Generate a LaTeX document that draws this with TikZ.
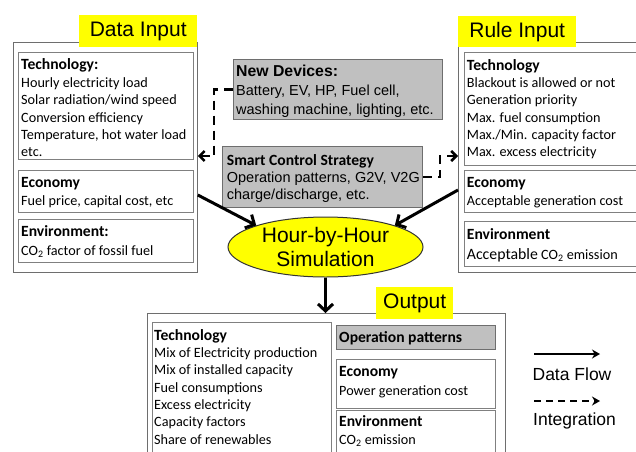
\documentclass[tikz,border=0pt]{standalone}
\usepackage{fontspec}
\setmainfont{Carlito}
\newfontfamily\arialf{Liberation Sans}
\usetikzlibrary{arrows.meta,shapes.geometric}

\definecolor{hilite}{RGB}{255,255,0}
\definecolor{panelgray}{RGB}{192,192,192}
\definecolor{framegray}{RGB}{110,110,110}
\definecolor{edgegray}{RGB}{128,128,128}

% one text line per node, stacked at a fixed line distance
\newcommand{\stacklines}[6]{%
  \foreach \lineTxt [count=\k] in {#6}{%
    \node[#2, anchor=base west, inner sep=0pt] (#1\k) at (#3,{#4+(\k-1)*#5}) {\lineTxt};}}

\tikzset{
  outerbox/.style={draw=framegray, line width=0.8pt, anchor=north west, inner sep=0pt},
  innerbox/.style={draw=edgegray, line width=1.1pt, anchor=north west, inner sep=0pt},
  greybox/.style={draw=framegray, fill=panelgray, line width=1pt, anchor=north west, inner sep=0pt},
  tag/.style={fill=hilite, anchor=north west, inner sep=0pt,
    font=\arialf\fontsize{21}{24}\selectfont},
  headtxt/.style={font=\bfseries\fontsize{15.6}{18}\selectfont},
  bodytxt/.style={font=\fontsize{14.2}{17}\selectfont},
  aheadtxt/.style={font=\arialf\bfseries\fontsize{15.8}{18}\selectfont},
  abodytxt/.style={font=\arialf\fontsize{14.5}{18}\selectfont},
  flow/.style={line width=3pt, -{Straight Barb[length=7pt,width=15pt]}},
  link/.style={line width=2.5pt, dash pattern=on 9pt off 6pt,
    -{Straight Barb[length=5pt,width=10pt]}},
  legendtxt/.style={font=\arialf\fontsize{17.5}{20}\selectfont, anchor=base},
}

\begin{document}
\begin{tikzpicture}[x=1pt,y=-1pt]
\useasboundingbox (0,0) rectangle (636,451);
\clip (0,0) rectangle (636,451);
\fill[white] (0,0) rectangle (636,451);

% ---------- Data input ----------
\node[outerbox, minimum width=184pt, minimum height=230pt] (din) at (13,42) {};
\node[tag, minimum width=118pt, minimum height=32pt] (dinTag) at (79,15) {Data Input};
\node[innerbox, minimum width=175pt, minimum height=107pt] (dtech) at (18,52) {};
\node[innerbox, minimum width=175pt, minimum height=42pt] (decon) at (18,170) {};
\node[innerbox, minimum width=175pt, minimum height=43pt] (denv) at (18,219) {};
\node[headtxt, anchor=base west, inner sep=0pt] (dtechH) at (21,69) {Technology:};
\stacklines{dtechL}{bodytxt}{21}{87.3}{17.35}{Hourly electricity load, Solar radiation/wind speed,
  Conversion efficiency, {Temperature, hot water load}, etc.}
\node[headtxt, anchor=base west, inner sep=0pt] (deconH) at (21,187.5) {Economy};
\node[bodytxt, anchor=base west, inner sep=0pt] (deconL) at (21,205.7) {Fuel price, capital cost, etc};
\node[headtxt, anchor=base west, inner sep=0pt] (denvH) at (21,236.7) {Environment:};
\node[bodytxt, anchor=base west, inner sep=0pt] (denvL) at (21,255) {CO\textsubscript{2} factor of fossil fuel};

% ---------- Rule input ----------
\node[outerbox, minimum width=200pt, minimum height=230pt] (rin) at (458,42) {};
\node[tag, minimum width=118pt, minimum height=31pt] (rinTag) at (458,16) {Rule Input};
\node[innerbox, minimum width=190pt, minimum height=113pt] (rtech) at (464,52) {};
\node[innerbox, minimum width=190pt, minimum height=42pt] (recon) at (464,170) {};
\node[innerbox, minimum width=190pt, minimum height=45pt] (renv) at (464,221) {};
\node[headtxt, anchor=base west, inner sep=0pt] (rtechH) at (466.7,70) {Technology};
\stacklines{rtechL}{bodytxt}{466.7}{87.3}{17.35}{Blackout is allowed or not, Generation priority,
  Max. fuel consumption, Max./Min. capacity factor, Max. excess electricity}
\node[headtxt, anchor=base west, inner sep=0pt] (reconH) at (466.7,187.7) {Economy};
\node[bodytxt, anchor=base west, inner sep=0pt] (reconL) at (466.7,205.7) {Acceptable generation cost};
\node[headtxt, anchor=base west, inner sep=0pt] (renvH) at (466.7,239) {Environment};
\node[bodytxt, anchor=base west, inner sep=0pt] (renvL) at (466.7,259)
  {{\fontsize{15.8}{18}\selectfont Acceptable} CO\textsubscript{2} emission};

% ---------- New devices and control strategy ----------
\node[greybox, minimum width=209pt, minimum height=60pt] (nd) at (233,59) {};
\node[aheadtxt, anchor=base west, inner sep=0pt] (ndH) at (236,76.7) {New Devices:};
\stacklines{ndL}{abodytxt}{236}{95.7}{18.6}{{Battery, EV, HP, Fuel cell,},
  {washing machine, lighting, etc.}}

\node[greybox, minimum width=200pt, minimum height=61pt] (sc) at (222,146) {};
\node[headtxt, anchor=base west, inner sep=0pt] (scH) at (226.7,165) {Smart Control Strategy};
\stacklines{scL}{abodytxt}{226.7}{182}{17.8}{{Operation patterns, G2V, V2G},
  {charge/discharge, etc.}}

% ---------- Simulation ----------
\node[ellipse, draw=black!80, line width=1pt, fill=hilite, minimum width=195pt, minimum height=60pt,
  inner sep=0pt, align=center, font=\arialf\fontsize{21}{24.3}\selectfont] (sim) at (325.5,247)
  {Hour-by-Hour\\Simulation};

% ---------- Output ----------
\node[outerbox, minimum width=358pt, minimum height=170pt] (out) at (147,313) {};
\node[tag, minimum width=77pt, minimum height=32pt] (outTag) at (376,287) {Output};
\node[innerbox, minimum width=179pt, minimum height=160pt] (otech) at (152,322) {};
\node[greybox, minimum width=159pt, minimum height=24pt] (oop) at (336,325) {};
\node[innerbox, minimum width=159pt, minimum height=49pt] (oecon) at (336,359) {};
\node[innerbox, minimum width=159pt, minimum height=70pt] (oenv) at (336,410) {};
\node[headtxt, anchor=base west, inner sep=0pt] (otechH) at (154,340) {Technology};
\stacklines{otechL}{bodytxt}{154}{357.3}{17.35}{Mix of Electricity production,
  Mix of installed capacity, Fuel consumptions, Excess electricity, Capacity factors,
  Share of renewables}
\node[headtxt, anchor=base west, inner sep=0pt] (oopH) at (339,342.7) {Operation patterns};
\node[headtxt, anchor=base west, inner sep=0pt] (oeconH) at (339,376.7) {Economy};
\node[bodytxt, anchor=base west, inner sep=0pt] (oeconL) at (339,395) {Power generation cost};
\node[headtxt, anchor=base west, inner sep=0pt] (oenvH) at (339,426.7) {Environment};
\node[bodytxt, anchor=base west, inner sep=0pt] (oenvL) at (339,444.3) {CO\textsubscript{2} emission};

% ---------- Connectors ----------
\coordinate (lbend) at (214,156);
\coordinate (rbend) at (440,156);
\draw[link] (nd.west) -| (lbend) -- (lbend -| din.east);
\draw[link] (sc.east) -| (rbend) -- (rbend -| rin.west);

\draw[flow] (din.east |- 0,195) -- (sim.north west);
\draw[flow] (rin.west |- 0,190) -- (sim.north east);
\draw[flow] (sim.south) -- (sim.south |- out.north);

% ---------- Legend ----------
\coordinate (lgA) at (534,354);
\coordinate (lgB) at (600,354);
\coordinate (lgC) at (534,401);
\coordinate (lgD) at (600,401);
\draw[line width=2pt, -{Stealth[length=8pt,width=9pt]}] (lgA) -- (lgB);
\draw[line width=2pt, dash pattern=on 7pt off 5pt, -{Stealth[length=8pt,width=9pt]}] (lgC) -- (lgD);
\node[legendtxt] (lgFlow) at (572,380) {Data Flow};
\node[legendtxt] (lgInt) at (574.5,425.7) {Integration};
\end{tikzpicture}
\end{document}
